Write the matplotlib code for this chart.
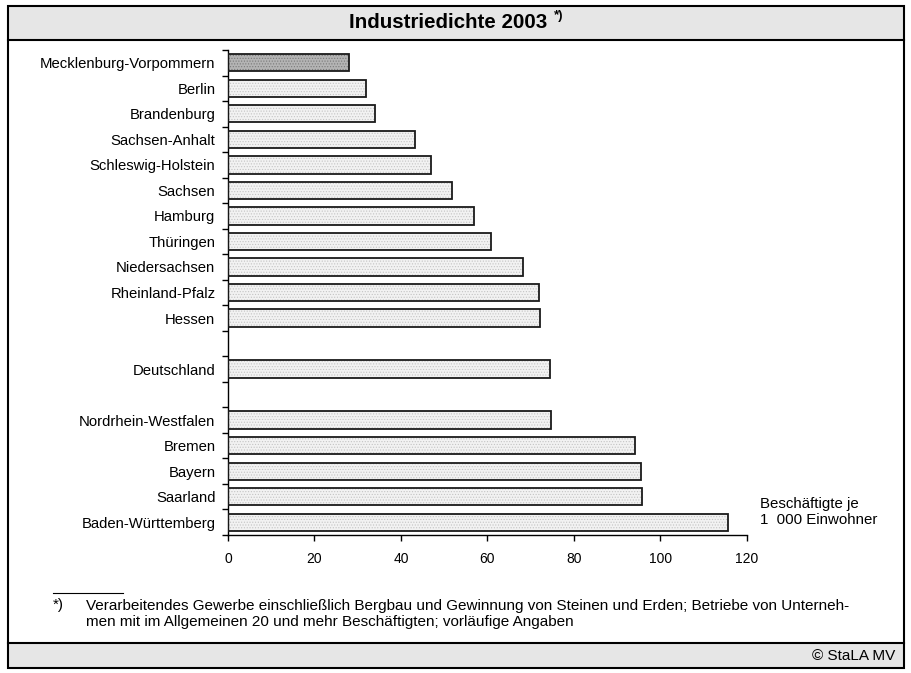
import matplotlib
matplotlib.use("Agg")
import matplotlib.pyplot as plt
from matplotlib.patches import Rectangle
from matplotlib.lines import Line2D

plt.rcParams['font.family'] = ['Liberation Sans', 'DejaVu Sans']
plt.rcParams['hatch.linewidth'] = 0.5

categories = ["Mecklenburg-Vorpommern", "Berlin", "Brandenburg", "Sachsen-Anhalt",
              "Schleswig-Holstein", "Sachsen", "Hamburg", "Thüringen", "Niedersachsen",
              "Rheinland-Pfalz", "Hessen", "", "Deutschland", "",
              "Nordrhein-Westfalen", "Bremen", "Bayern", "Saarland", "Baden-Württemberg"]
values = [28.0, 31.8, 34.0, 43.2, 47.0, 51.9, 56.8, 60.7, 68.1, 71.8, 72.1,
          None, 74.4, None, 74.6, 94.2, 95.5, 95.8, 115.6]
xticks = [0, 20, 40, 60, 80, 100, 120]

W, H = 912, 673
fig = plt.figure(figsize=(W / 100, H / 100), dpi=100)

def fx(px):
    return px / W

def fy(py):
    return 1 - py / H

# frame and bands
fig.patches.append(Rectangle((fx(8), fy(40)), fx(904 - 8), fy(6) - fy(40),
                             transform=fig.transFigure, facecolor='#e6e6e6',
                             edgecolor='none', zorder=0))
fig.patches.append(Rectangle((fx(8), fy(668)), fx(904 - 8), fy(643) - fy(668),
                             transform=fig.transFigure, facecolor='#e6e6e6',
                             edgecolor='none', zorder=0))
fig.patches.append(Rectangle((fx(8), fy(668)), fx(904 - 8), fy(6) - fy(668),
                             transform=fig.transFigure, facecolor='none',
                             edgecolor='black', linewidth=1.5, zorder=5))
fig.lines.append(Line2D([fx(8), fx(904)], [fy(40), fy(40)], transform=fig.transFigure,
                        color='black', linewidth=1.5))
fig.lines.append(Line2D([fx(8), fx(904)], [fy(643), fy(643)], transform=fig.transFigure,
                        color='black', linewidth=1.5))

fig.text(fx(547), fy(23), "Industriedichte 2003", ha='right', va='center',
         fontsize=14.8, fontweight='bold')
fig.text(fx(554), fy(16), "*)", ha='left', va='center', fontsize=9.5, fontweight='bold')

ax = fig.add_axes([fx(228), fy(535), fx(747 - 228), fy(50) - fy(535)])
n = len(categories)
ypos = list(range(n))
for i, v in enumerate(values):
    if v is None:
        continue
    if i == 0:
        fc, hc = '#b4b4b4', '#7a7a7a'
    else:
        fc, hc = '#f2f2f2', '#c4c4c4'
    ax.barh(i, v, height=0.68, color=fc, edgecolor=hc, linewidth=0,
            hatch='......', zorder=2)
    ax.barh(i, v, height=0.68, color='none', edgecolor='#1a1a1a', linewidth=1.3,
            zorder=3)

ax.set_ylim(n - 0.5, -0.5)
ax.set_xlim(0, 120)
ax.set_xticks(xticks)
ax.set_xticklabels([str(t) for t in xticks], fontsize=10)
ax.set_yticks(ypos)
ax.set_yticklabels(categories, fontsize=10.7)
ax.tick_params(axis='y', length=0, pad=9)
ax.set_yticks([i - 0.5 for i in range(n + 1)], minor=True)
ax.tick_params(axis='y', which='minor', length=4, width=1)
ax.tick_params(axis='x', length=4, width=1, pad=8)
for s in ['top', 'right']:
    ax.spines[s].set_visible(False)
ax.spines['left'].set_linewidth(1)
ax.spines['bottom'].set_linewidth(1)

fig.text(fx(760), fy(512), "Beschäftigte je\n1  000 Einwohner", ha='left', va='center',
         fontsize=10.8, linespacing=1.2)

fig.lines.append(Line2D([fx(53), fx(123)], [fy(593), fy(593)], transform=fig.transFigure,
                        color='black', linewidth=0.8))
fig.text(fx(53), fy(605), "*)", ha='left', va='center', fontsize=11)
fig.text(fx(86), fy(614),
         "Verarbeitendes Gewerbe einschließlich Bergbau und Gewinnung von Steinen und Erden; Betriebe von Unterneh-\n"
         "men mit im Allgemeinen 20 und mehr Beschäftigten; vorläufige Angaben",
         ha='left', va='center', fontsize=11, linespacing=1.2)

fig.text(fx(895), fy(656), "© StaLA MV", ha='right', va='center', fontsize=11)

fig.savefig("out.png", dpi=100)
